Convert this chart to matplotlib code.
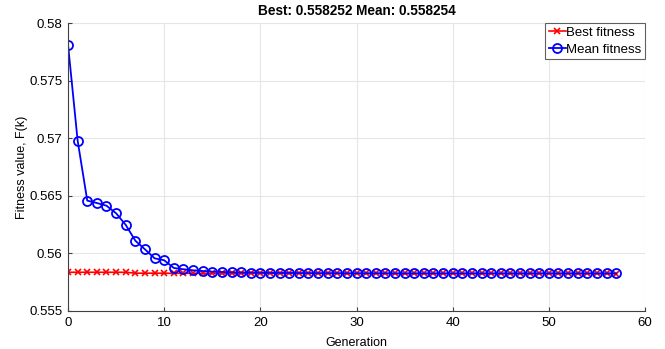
import matplotlib
matplotlib.use("Agg")
import matplotlib.pyplot as plt
import numpy as np

plt.rcParams['font.family'] = ['Liberation Sans', 'DejaVu Sans']

generation = list(range(58))

best_fitness = [0.55836] * 7 + [0.55828] * 4 + [0.55827] * 5 + [0.558260] * 10 + [0.558255] * 32
best_fitness[-1] = 0.558252

mean_fitness = [0.57812, 0.56978, 0.56458, 0.56437, 0.56414, 0.56348, 0.56247, 0.56110,
                0.56035, 0.55957, 0.55940, 0.55873, 0.55862, 0.55853, 0.55847, 0.55841,
                0.55838, 0.55836, 0.55834, 0.55833, 0.55832, 0.55831, 0.55830, 0.55830,
                0.55829, 0.55829, 0.55828, 0.55828, 0.55828, 0.55827, 0.55827, 0.55827,
                0.55827, 0.55827, 0.55826, 0.55826, 0.55826, 0.55826, 0.55826, 0.55826,
                0.55826, 0.55826, 0.55826, 0.55826, 0.55826, 0.55826, 0.55826, 0.55826,
                0.55826, 0.55826, 0.55826, 0.55826, 0.55826, 0.55826, 0.55826, 0.55826,
                0.55826, 0.558254]

fig = plt.figure(figsize=(6.65, 3.49), dpi=100)
ax = fig.add_axes([0.1023, 0.109, 0.8677, 0.825])

ax.plot(generation, best_fitness, color='red', marker='x', markersize=5,
        linewidth=1.2, markeredgewidth=1.2, label='Best fitness')
ax.plot(generation, mean_fitness, color='blue', marker='o', markersize=6.5,
        markerfacecolor='none', markeredgewidth=1.3, linewidth=1.3, label='Mean fitness')

ax.set_xlim(0, 60)
ax.set_ylim(0.555, 0.58)
ax.set_xticks([0, 10, 20, 30, 40, 50, 60])
ax.set_yticks([0.555, 0.56, 0.565, 0.57, 0.575, 0.58])
ax.set_yticklabels(['0.555', '0.56', '0.565', '0.57', '0.575', '0.58'])
ax.grid(True, color='#e6e6e6', linewidth=0.8)
ax.set_axisbelow(True)

for side in ['top', 'right']:
    ax.spines[side].set_visible(False)
for side in ['left', 'bottom']:
    ax.spines[side].set_color('#404040')
    ax.spines[side].set_linewidth(0.8)
ax.tick_params(labelsize=9.5, direction='in', length=3, color='#404040', pad=4)

ax.set_xlabel('Generation', fontsize=9, labelpad=6)
ax.set_ylabel('Fitness value, F(k)', fontsize=9, labelpad=1)
ax.set_title('Best: 0.558252 Mean: 0.558254', fontsize=9.8, fontweight='bold', pad=6)

leg = ax.legend(loc='upper right', fontsize=9.5, fancybox=False, framealpha=1,
                edgecolor='#606060', handlelength=1.3, handletextpad=0.05,
                borderpad=0.26, labelspacing=0.36, borderaxespad=0.0)
leg.get_frame().set_linewidth(0.8)

fig.savefig('out.png', dpi=100)
